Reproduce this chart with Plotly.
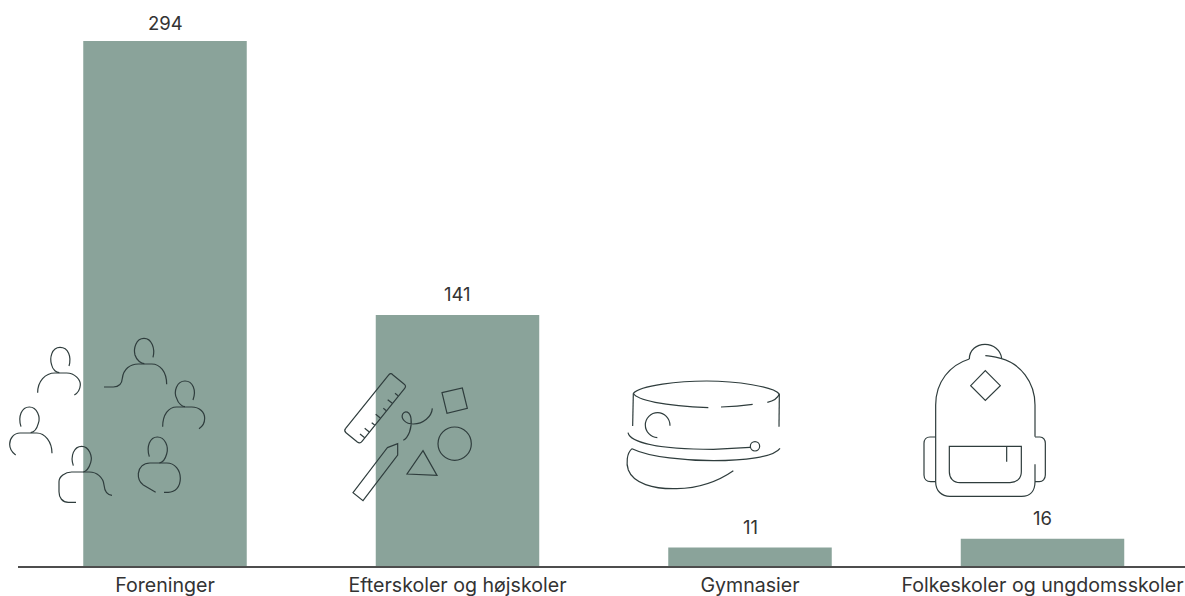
import re
import plotly.graph_objects as go

categories = ["Foreninger", "Efterskoler og højskoler", "Gymnasier", "Folkeskoler og ungdomsskoler"]
values = [294, 141, 11, 16]

BAR = "#8AA39A"
INK = "#2F3D3D"
TEXT = "#333333"
W, H = 1185, 596
LEFT, PLOT_BOTTOM, ZERO_PX = 18, 566, 567.3
PX_PER_CAT, CAT0 = 292.5, 165
PX_PER_UNIT = 1.79


def place(path, ox, oy):
    """Map a path drawn in 3x crop coordinates to page pixels."""
    nums = iter(re.findall(r"[A-Z]|-?\d+\.?\d*", path))
    out = []
    for tok in nums:
        if tok.isalpha():
            out.append(tok)
        else:
            out.append(f"{ox + float(tok) / 3:.2f},{oy + float(next(nums)) / 3:.2f}")
    return " ".join(out)


def ring(cx, cy, r):
    k = 0.5523 * r
    return (f"M{cx + r} {cy} C{cx + r} {cy + k} {cx + k} {cy + r} {cx} {cy + r} "
            f"C{cx - k} {cy + r} {cx - r} {cy + k} {cx - r} {cy} "
            f"C{cx - r} {cy - k} {cx - k} {cy - r} {cx} {cy - r} "
            f"C{cx + k} {cy - r} {cx + r} {cy - k} {cx + r} {cy} Z")


people = [
    "M207 108 C215 80 205 52 180 52 C155 52 148 85 155 105 C158 120 170 128 178 128",
    "M113 188 C113 155 135 129 165 129 L200 129 C225 129 242 150 241 165 C240 178 232 190 223 195",
    "M459 82 C466 55 455 25 432 25 C408 25 400 55 405 75 C410 92 425 101 433 101",
    "M312 171 L340 171 C358 171 366 160 367 145 C370 118 390 102 415 102 L455 102 C480 102 500 125 500 163",
    "M579 210 C590 180 578 153 555 153 C530 153 520 185 530 205 C535 222 548 230 555 230",
    "M488 290 C488 255 505 231 530 231 L575 231 C600 231 614 248 614 265 C614 278 607 290 597 296",
    "M63 290 C53 260 65 231 88 231 C112 231 122 262 115 280 C110 298 100 307 92 308",
    "M156 370 C156 335 135 309 110 309 L60 309 C42 309 29 325 29 343 C29 355 37 368 47 375",
    "M220 407 C210 378 222 349 245 349 C268 349 278 380 272 398 C267 415 257 425 250 426",
    "M228 517 L205 517 C187 517 177 503 177 485 L177 455 C177 440 195 426 215 426 L268 426 C290 426 310 442 312 465 C314 485 322 495 336 496",
    "M448 380 C438 350 450 321 472 321 C495 321 507 350 500 372 C495 390 485 398 478 399",
    "M467 487 L430 465 C418 457 414 445 415 430 C417 412 430 399 450 399 L500 399 C525 399 541 420 541 445 C541 472 525 487 505 487 L492 487",
]
school = [
    "M188 44 L222 72 Q230 78 224 85 L96 244 Q90 252 82 246 L48 218 Q41 212 47 205 L175 46 Q182 37 188 44 Z",
    "M204 107 L195 100", "M187 130 L173 119", "M169 152 L160 145", "M151 174 L137 163",
    "M134 195 L125 188", "M118 216 L104 205", "M104 233 L90 222",
    "M172 263 L203 251 L203 285 L99 422 L69 398 Z",
    "M336 98 L397 84 L412 145 L351 160 Z",
    ring(374, 251, 50),
    "M279 272 L321 346 L231 342 Z",
    "M307 145 C305 170 280 192 250 192 C225 192 212 175 218 162 C225 150 240 155 243 175 C247 205 235 232 220 241",
]
cap = [
    "M40 70 C60 45 180 33 260 33 C350 33 460 50 478 72",
    "M40 70 C50 90 130 108 265 113",
    "M303 111 C340 110 370 107 398 103",
    "M442 97 C460 93 473 85 478 72",
    "M40 70 L38 168",
    "M478 72 L477 170",
    "M150 167 C150 145 133 128 113 128 C92 128 76 145 76 165 C76 185 92 202 112 203",
    "M24 188 C30 215 100 237 280 238 L390 232",
    ring(405, 229, 14),
    "M36 236 C90 262 200 272 280 272 C370 272 460 262 480 235",
    "M36 236 C20 250 18 280 25 300 C40 340 100 358 170 356 C240 354 300 330 340 302",
]
bag = [
    "M178 72 C120 90 77 140 77 210 L77 440 C77 468 95 484 120 484 L335 484 C360 484 375 468 375 440 L375 388",
    "M375 305 L375 210 C375 140 330 85 272 70 C260 67 240 62 226 62",
    "M178 72 C178 45 200 28 225 28 C250 28 272 45 275 70",
    "M226 107 L271 152 L226 196 L182 152 Z",
    "M118 334 L334 334 L334 410 C334 430 320 443 300 443 L150 443 C130 443 118 430 118 410 Z",
    "M290 334 L290 380",
    "M77 306 L60 306 C48 306 42 315 42 325 L42 420 C42 432 50 440 62 440 L77 440",
    "M375 306 L390 306 C400 306 406 315 406 325 L406 420 C406 432 398 440 388 440 L375 440",
]

shapes = []
for group, ox, oy in [(people, 0, 330), (school, 330, 360), (cap, 620, 370), (bag, 910, 335)]:
    for p in group:
        shapes.append(dict(type="path", path=place(p, ox, oy), xref="x2", yref="y2",
                           line=dict(color=INK, width=1.2), fillcolor="rgba(0,0,0,0)", layer="above"))

fig = go.Figure()
fig.add_bar(x=list(range(len(categories))), y=values, marker=dict(color=BAR, line_width=0),
            width=163.5 / PX_PER_CAT, hoverinfo="skip", xaxis="x", yaxis="y")
fig.add_scatter(x=[0], y=[0], mode="markers", opacity=0, xaxis="x2", yaxis="y2",
                hoverinfo="skip", showlegend=False)

annotations = [
    dict(x=i, y=v, xref="x", yref="y", text=str(v), showarrow=False, yanchor="middle", xanchor="center",
         yshift=18 if v == max(values) else 21, font=dict(family="Inter", size=18.5, color=TEXT))
    for i, v in enumerate(values)
]

fig.update_layout(
    width=W, height=H, margin=dict(l=0, r=0, t=0, b=0), paper_bgcolor="white", plot_bgcolor="rgba(0,0,0,0)",
    showlegend=False, shapes=shapes, annotations=annotations,
    xaxis=dict(domain=[LEFT / W, 1], range=[(LEFT - CAT0) / PX_PER_CAT, (W - CAT0) / PX_PER_CAT],
               tickmode="array", tickvals=list(range(len(categories))), ticktext=categories,
               ticks="", showgrid=False, zeroline=False, showline=True, linecolor="#4D4D4D", linewidth=1.5,
               ticklabelstandoff=1,
               tickfont=dict(family="Inter", size=19.6, color=TEXT), fixedrange=True, anchor="y"),
    yaxis=dict(domain=[(H - PLOT_BOTTOM) / H, 1],
               range=[(ZERO_PX - PLOT_BOTTOM) / PX_PER_UNIT, ZERO_PX / PX_PER_UNIT], visible=False,
               fixedrange=True, anchor="x"),
    xaxis2=dict(domain=[0, 1], range=[0, W], visible=False, fixedrange=True, anchor="y2"),
    yaxis2=dict(domain=[0, 1], range=[H, 0], visible=False, fixedrange=True, anchor="x2"),
)

fig.write_html("out.html", config=dict(displayModeBar=False),
               post_script="document.body.style.margin='0';document.documentElement.style.overflow='hidden';")
